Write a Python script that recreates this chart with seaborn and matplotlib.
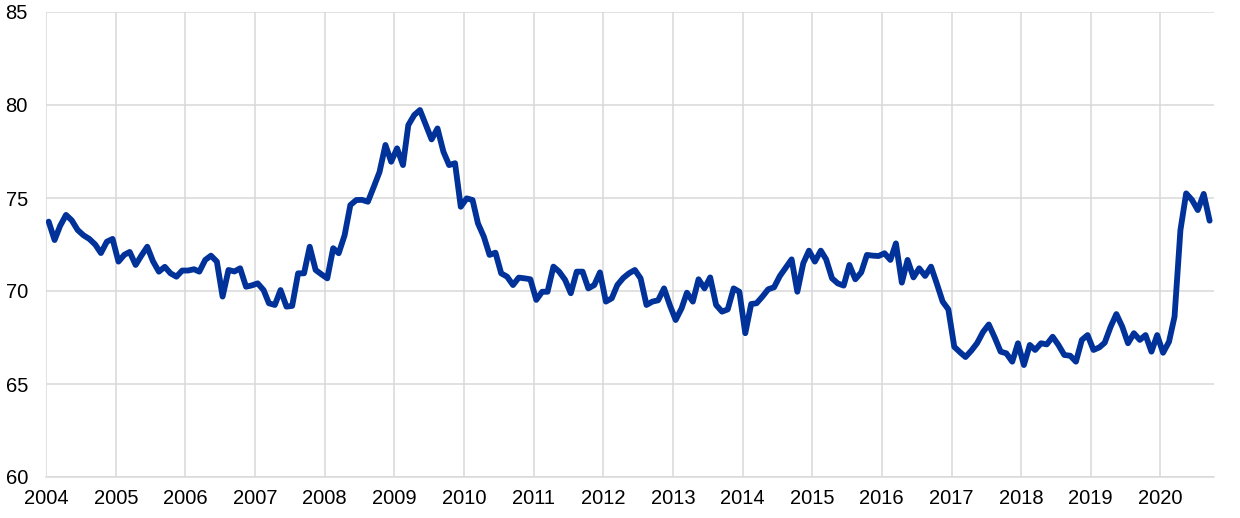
import matplotlib
matplotlib.use("Agg")
import matplotlib.pyplot as plt
import matplotlib.dates as mdates
import seaborn as sns
import pandas as pd

# monthly values, Jan 2004 - Sep 2020
v2004 = [73.73, 72.74, 73.5, 74.09, 73.8, 73.28, 73.0, 72.8, 72.5, 72.04, 72.65, 72.8]
v2005 = [71.58, 71.95, 72.1, 71.4, 71.9, 72.38, 71.6, 71.04, 71.3, 70.95, 70.77, 71.1]
v2006 = [71.1, 71.17, 71.04, 71.67, 71.9, 71.58, 69.7, 71.13, 71.05, 71.22, 70.23, 70.3]
v2007 = [70.41, 70.05, 69.34, 69.25, 70.05, 69.16, 69.2, 70.95, 70.95, 72.38, 71.13, 70.9]
v2008 = [70.68, 72.3, 72.03, 73.0, 74.62, 74.89, 74.9, 74.8, 75.6, 76.4, 77.85, 76.95]
v2009 = [77.67, 76.77, 78.92, 79.46, 79.73, 78.92, 78.15, 78.74, 77.49, 76.77, 76.87, 74.53]
v2010 = [74.98, 74.89, 73.64, 72.92, 71.94, 72.06, 70.95, 70.77, 70.32, 70.72, 70.68, 70.63]
v2011 = [69.52, 69.96, 69.96, 71.31, 71.04, 70.6, 69.88, 71.04, 71.04, 70.14, 70.32, 71.0]
v2012 = [69.43, 69.61, 70.32, 70.7, 70.95, 71.13, 70.68, 69.25, 69.43, 69.5, 70.14, 69.25]
v2013 = [68.44, 69.07, 69.91, 69.43, 70.63, 70.14, 70.73, 69.25, 68.89, 69.01, 70.14, 69.96]
v2014 = [67.73, 69.3, 69.34, 69.7, 70.09, 70.2, 70.8, 71.25, 71.7, 69.96, 71.49, 72.17]
v2015 = [71.58, 72.17, 71.7, 70.68, 70.41, 70.29, 71.4, 70.63, 71.0, 71.94, 71.9, 71.88]
v2016 = [72.03, 71.67, 72.56, 70.45, 71.67, 70.73, 71.22, 70.81, 71.31, 70.41, 69.43, 69.01]
v2017 = [67.0, 66.7, 66.45, 66.8, 67.2, 67.8, 68.2, 67.5, 66.74, 66.65, 66.2, 67.19]
v2018 = [66.02, 67.1, 66.83, 67.19, 67.13, 67.54, 67.1, 66.56, 66.52, 66.2, 67.37, 67.63]
v2019 = [66.83, 66.97, 67.22, 68.08, 68.76, 68.08, 67.19, 67.73, 67.37, 67.63, 66.74, 67.63]
v2020 = [66.68, 67.27, 68.62, 73.28, 75.25, 74.89, 74.35, 75.22, 73.78]

values = (v2004 + v2005 + v2006 + v2007 + v2008 + v2009 + v2010 + v2011
          + v2012 + v2013 + v2014 + v2015 + v2016 + v2017 + v2018 + v2019 + v2020)
dates = pd.date_range("2004-01-01", periods=len(values), freq="MS") + pd.Timedelta(days=14)
df = pd.DataFrame({"date": dates, "value": values})

year_ticks = pd.date_range("2004-01-01", "2020-01-01", freq="YS")
y_ticks = [60, 65, 70, 75, 80, 85]

sns.set_style("white")
plt.rcParams["font.family"] = ["Liberation Sans", "DejaVu Sans"]

fig, ax = plt.subplots(figsize=(12.4, 5.18), dpi=100)
fig.subplots_adjust(left=46 / 1240, right=1214 / 1240, top=1 - 12 / 518, bottom=1 - 477 / 518)

sns.lineplot(data=df, x="date", y="value", color="#003299", linewidth=4.2, ax=ax)

ax.set_xlim(pd.Timestamp("2004-01-01"), pd.Timestamp("2020-10-08"))
ax.set_ylim(60, 85)
ax.set_xticks(year_ticks)
ax.xaxis.set_major_formatter(mdates.DateFormatter("%Y"))
ax.set_yticks(y_ticks)

ax.grid(True, color="#d9d9d9", linewidth=1.1)
ax.set_axisbelow(True)
for side in ["top", "right", "left"]:
    ax.spines[side].set_visible(False)
ax.spines["bottom"].set_color("#d9d9d9")
ax.spines["bottom"].set_linewidth(1.1)

ax.tick_params(axis="both", length=0, labelsize=14.5, labelcolor="black")
ax.tick_params(axis="y", pad=13)
ax.tick_params(axis="x", pad=9)
ax.set_xlabel("")
ax.set_ylabel("")

plt.savefig("out.png", dpi=100)
